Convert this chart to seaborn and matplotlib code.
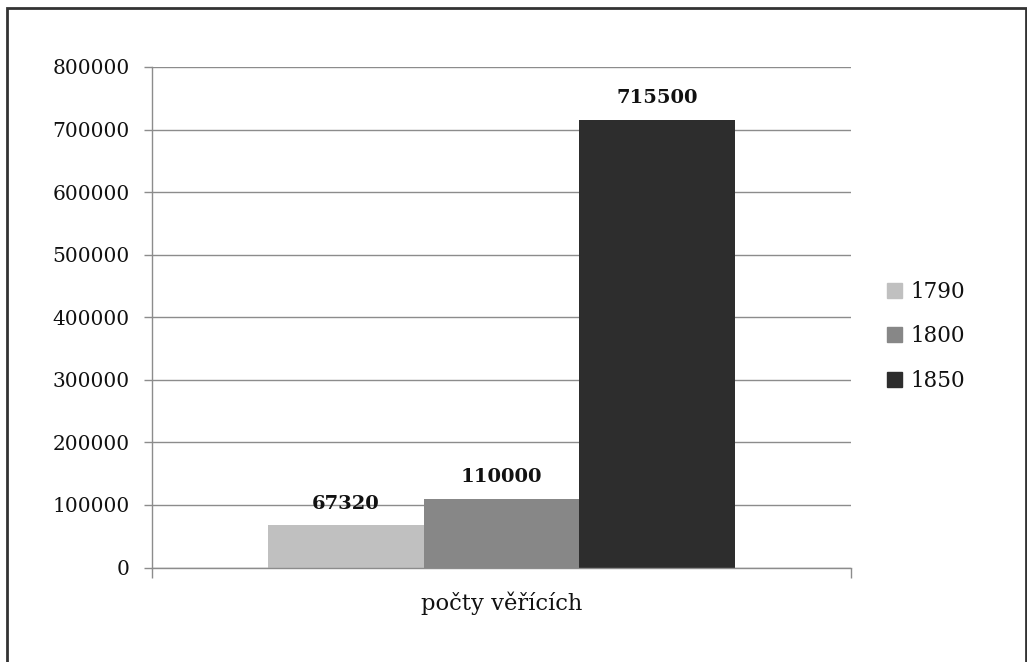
import matplotlib
matplotlib.use("Agg")
import matplotlib.pyplot as plt
import matplotlib.patches as mpatches
import numpy as np
import pandas as pd
import seaborn as sns

category = ["počty věřících"]
years = ["1790", "1800", "1850"]
values = [67320, 110000, 715500]
colors = ["#c0c0c0", "#878787", "#2d2d2d"]
y_ticks = list(range(0, 800001, 100000))

df = pd.DataFrame({"kat": category * len(years), "rok": years, "pocet": values})

sns.set_theme(style="white")
plt.rcParams['font.family'] = ['DejaVu Serif']
plt.rcParams['text.color'] = "#111111"
plt.rcParams['xtick.labelcolor'] = "#111111"
plt.rcParams['ytick.labelcolor'] = "#111111"

fig = plt.figure(figsize=(10.27, 6.62), dpi=100)
ax = fig.add_axes([0.148, 0.1427, 0.6806, 0.7561])

sns.barplot(data=df, x="kat", y="pocet", hue="rok", palette=colors,
            width=0.667, saturation=1, edgecolor="none", linewidth=0, ax=ax)

ax.set_xlim(-0.5, 0.5)
ax.set_ylim(0, 800000)
ax.set_yticks(y_ticks)
ax.set_yticklabels([str(t) for t in y_ticks], fontsize=14.5)
ax.yaxis.grid(True, color="#8c8c8c", linewidth=1)
ax.set_axisbelow(True)
ax.tick_params(axis="y", length=6, width=1, color="#8c8c8c", pad=10, left=True)

# x axis: category label, ticks only at the ends
ax.set_xticks([0])
ax.set_xticklabels(category, fontsize=16.3)
ax.tick_params(axis="x", length=0, pad=17)
ax.set_xticks([-0.5, 0.5], minor=True)
ax.tick_params(axis="x", which="minor", length=7, width=1, color="#8c8c8c", bottom=True)
ax.set_xlabel("")
ax.set_ylabel("")

for side in ["top", "right"]:
    ax.spines[side].set_visible(False)
for side in ["left", "bottom"]:
    ax.spines[side].set_color("#8c8c8c")
    ax.spines[side].set_linewidth(1)

for cont in ax.containers:
    ax.bar_label(cont, fmt="%d", padding=9, fontsize=14, fontweight="bold")

handles = [mpatches.Patch(color=c) for c in colors]
ax.legend(handles, years, loc="center left", bbox_to_anchor=(1.024, 0.462),
          frameon=False, fontsize=15.5, handlelength=0.7, handleheight=0.7,
          handletextpad=0.4, labelspacing=1.05)

# outer border of the chart area
fig.patches.append(mpatches.Rectangle((7 / 1027, -0.05), 1019 / 1027, 1.05 - 8 / 662,
                                      transform=fig.transFigure, fill=False,
                                      edgecolor="#333333", linewidth=2))

fig.savefig("out.png", dpi=100)
